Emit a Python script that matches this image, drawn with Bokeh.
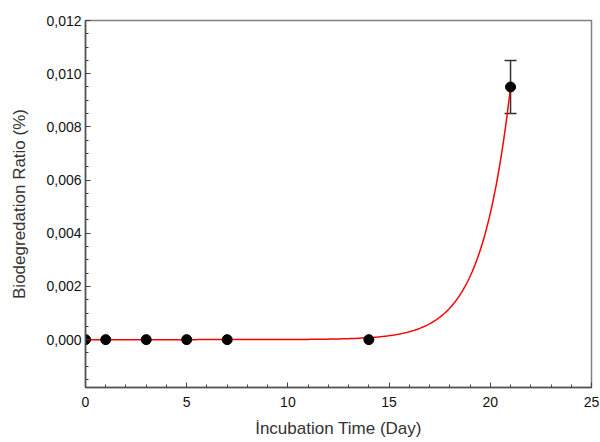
import numpy as np
from bokeh.plotting import figure
from bokeh.models import (ColumnDataSource, Whisker, FixedTicker, CustomJSTickFormatter, Range1d)
from bokeh.embed import file_html
from bokeh.resources import INLINE

# data
days = [0, 1, 3, 5, 7, 14, 21]
ratio = [0.0, 0.0, 0.0, 0.0, 0.0, 0.0, 0.0095]
ratio_err = [0.0, 0.0, 0.0, 0.0, 0.0, 0.0, 0.001]

# exponential fit parameters (y = fit_a * exp(fit_b * (x - fit_x_end)))
fit_a = 0.0095
fit_b = 0.693
fit_x_end = 21

x_ticks = [0, 5, 10, 15, 20, 25]
x_minor = list(range(0, 26))
y_ticks = [0.0, 0.002, 0.004, 0.006, 0.008, 0.010, 0.012]
y_minor = [round(-0.0015 + 0.0005 * i, 4) for i in range(28)]

p = figure(width=600, height=442, output_backend="svg", toolbar_location=None,
           x_range=Range1d(0, 25), y_range=Range1d(-0.0018, 0.012),
           frame_width=506, frame_height=367,
           min_border_left=85, min_border_right=9, min_border_top=20, min_border_bottom=55)
p.xgrid.visible = False
p.ygrid.visible = False
p.outline_line_color = "#808080"
p.outline_line_width = 1.5
p.background_fill_color = "white"
p.border_fill_color = "white"

# fit curve
xf = np.linspace(0, fit_x_end, 300)
yf = fit_a * np.exp(fit_b * (xf - fit_x_end))
p.line(xf, yf, line_color="red", line_width=1.5)

src = ColumnDataSource(dict(x=days, y=ratio))
err_src = ColumnDataSource(dict(x=[d for d, e in zip(days, ratio_err) if e > 0],
                                upper=[r + e for r, e in zip(ratio, ratio_err) if e > 0],
                                lower=[r - e for r, e in zip(ratio, ratio_err) if e > 0]))
w = Whisker(base="x", upper="upper", lower="lower", source=err_src,
            line_color="#333333", line_width=1.5)
w.upper_head.line_color = "#333333"
w.lower_head.line_color = "#333333"
w.upper_head.line_width = 1.5
w.lower_head.line_width = 1.5
w.upper_head.size = 12
w.lower_head.size = 12
p.add_layout(w)

p.scatter("x", "y", source=src, size=10, fill_color="black", line_color="black")

fmt = CustomJSTickFormatter(code="return tick.toFixed(3).replace('.', ',');")

p.xaxis.ticker = FixedTicker(ticks=x_ticks, minor_ticks=x_minor)
p.yaxis.ticker = FixedTicker(ticks=y_ticks, minor_ticks=y_minor)
p.yaxis.formatter = fmt

for ax in (p.xaxis[0], p.yaxis[0]):
    ax.major_tick_in = 5
    ax.major_tick_out = 0
    ax.minor_tick_in = 3
    ax.minor_tick_out = 0
    ax.axis_line_color = "#505050"
    ax.axis_line_width = 1.5
    ax.major_tick_line_color = "#404040"
    ax.minor_tick_line_color = "#404040"
    ax.major_label_text_font = "Liberation Sans"
    ax.major_label_text_font_size = "14px"
    ax.major_label_text_color = "#111111"
    ax.axis_label_text_font = "Liberation Sans"
    ax.axis_label_text_font_size = "17px"
    ax.axis_label_text_font_style = "normal"
    ax.axis_label_text_color = "#333333"

p.xaxis.axis_label = "İncubation Time (Day)"
p.yaxis.axis_label = "Biodegredation Ratio (%)"
p.xaxis.major_label_standoff = 9
p.xaxis.axis_label_standoff = 9
p.yaxis.major_label_standoff = 4
p.yaxis.axis_label_standoff = 14

open("out.html", "w").write(file_html(p, INLINE))
